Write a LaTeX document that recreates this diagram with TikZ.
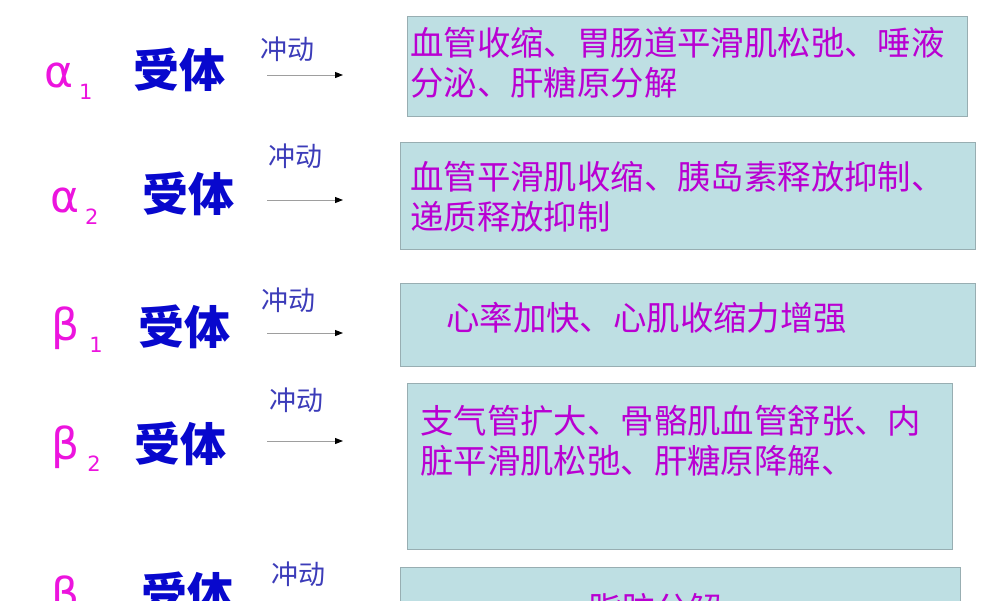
\documentclass[tikz,border=0pt]{standalone}
\usepackage{fontspec}
\newfontfamily\cjk{Noto Sans CJK SC}
\newfontfamily\greekfont{DejaVu Sans}
\usetikzlibrary{arrows.meta}

\definecolor{panelfill}{RGB}{190,223,227}
\definecolor{paneldraw}{RGB}{152,174,178}
\definecolor{effcol}{RGB}{185,0,210}
\definecolor{greekcol}{RGB}{236,20,222}
\definecolor{recol}{RGB}{8,8,205}
\definecolor{impcol}{RGB}{60,60,185}

\begin{document}
\begin{tikzpicture}[x=1pt,y=-1pt]

\tikzset{
    panel/.style args={#1and#2}{
        draw=paneldraw,
        fill=panelfill,
        line width=0.8pt,
        minimum width=#1,
        minimum height=#2,
        inner sep=0pt,
    },
    efftext/.style={
        anchor=west,
        align=left,
        inner sep=0pt,
        text=effcol,
        font=\cjk\fontsize{33.4}{40}\selectfont
    },
    greek/.style={
        anchor=base west,
        inner sep=0pt,
        text=greekcol,
        font=\greekfont\fontsize{44}{44}\selectfont
    },
    recep/.style={
        inner sep=0pt,
        text=recol,
        font=\cjk\bfseries\fontsize{46}{46}\selectfont
    },
    impulse/.style={
        inner sep=0pt,
        text=impcol,
        font=\cjk\fontsize{27}{27}\selectfont
    },
    impline/.style={
        draw=black!38,
        line width=1pt,
        -{Triangle[black,length=8pt,width=6pt]}
    }
}

\useasboundingbox (0,0) rectangle (1000,600);

\newcommand{\sub}[2]{\hspace{#1pt}\raisebox{-12pt}{\fontsize{21}{21}\selectfont #2}}

\node(b1) [panel=560 and 100] at (687,66) {};
\node(b2) [panel=575 and 107] at (687.5,195.5) {};
\node(b3) [panel=575 and 83] at (687.5,324.5) {};
\node(b4) [panel=545 and 166] at (679.5,466) {};
\node(b5) [panel=560 and 100] at (680,617) {};

\node(t1) [efftext] at (410,63) {血管收缩、胃肠道平滑肌松弛、唾液\\分泌、肝糖原分解};
\node(t2) [efftext] at (410,197) {血管平滑肌收缩、胰岛素释放抑制、\\递质释放抑制};
\node(t3) [efftext] at (446,318) {心率加快、心肌收缩力增强};
\node(t4) [efftext] at (420,441) {支气管扩大、骨骼肌血管舒张、内\\脏平滑肌松弛、肝糖原降解、};
\node(t5) [efftext] at (588,609) {脂肪分解};

\node(g1) [greek] at (44,87) {α\sub{6}{1}};
\node(g2) [greek] at (50,212) {α\sub{6}{2}};
\node(g3) [greek] at (51,340) {β\sub{10}{1}};
\node(g4) [greek] at (51,459) {β\sub{8}{2}};
\node(g5) [greek] at (51,609) {β};

\node(r1) [recep] at (179,70) {受体};
\node(r2) [recep] at (188,194) {受体};
\node(r3) [recep] at (184,327) {受体};
\node(r4) [recep] at (180,444) {受体};
\node(r5) [recep] at (187,594) {受体};

\node(i1) [impulse] at (287,49) {冲动};
\node(i2) [impulse] at (295,156) {冲动};
\node(i3) [impulse] at (288,300) {冲动};
\node(i4) [impulse] at (296,400) {冲动};
\node(i5) [impulse] at (298,574) {冲动};

\coordinate (s1) at (267,75);  \coordinate (e1) at (343,75);
\coordinate (s2) at (267,200); \coordinate (e2) at (343,200);
\coordinate (s3) at (267,333); \coordinate (e3) at (343,333);
\coordinate (s4) at (267,441); \coordinate (e4) at (343,441);

\draw[impline] (s1) -- (e1);
\draw[impline] (s2) -- (e2);
\draw[impline] (s3) -- (e3);
\draw[impline] (s4) -- (e4);

\end{tikzpicture}
\end{document}
